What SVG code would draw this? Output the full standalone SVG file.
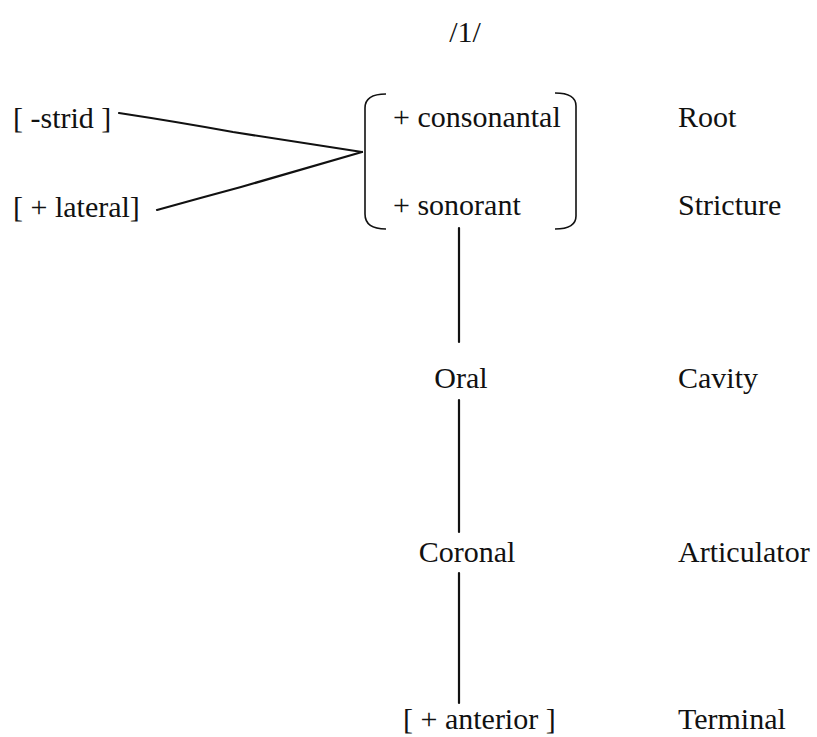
<svg xmlns="http://www.w3.org/2000/svg" width="817" height="737" viewBox="0 0 817 737">
  <style>
    text { font-family: "Liberation Serif", "Times New Roman", "DejaVu Serif", serif; font-size: 30px; fill: #111; }
    .mid { text-anchor: middle; }
    .edge { fill: none; stroke: #111; stroke-width: 2.2; stroke-linecap: round; stroke-linejoin: round; }
    .brk { fill: none; stroke: #111; stroke-width: 1.6; }
  </style>
  <rect width="817" height="737" fill="#ffffff"/>

  <text class="mid" x="465" y="42">/1/</text>

  <g id="connectors">
    <path class="edge" d="M119 113 Q178 122 233 132 L362 152"/>
    <path class="edge" d="M157 210 Q200 198 241 187 L362 152"/>
    <line class="edge" x1="459" y1="228" x2="459" y2="342"/>
    <line class="edge" x1="459" y1="400" x2="459" y2="532"/>
    <line class="edge" x1="459" y1="573" x2="459" y2="703"/>
  </g>

  <g id="strid"><text x="13" y="128">[ -strid ]</text></g>
  <g id="lateral"><text x="13" y="217">[ + lateral]</text></g>

  <g id="root-matrix">
    <path class="brk" d="M386 94 Q365 94 365 108 L365 214 Q365 229 386 229"/>
    <path class="brk" d="M555 93 Q576 93 576 106 L576 216 Q576 229 555 229"/>
    <text x="393" y="127">+ consonantal</text>
    <text x="393" y="215">+ sonorant</text>
  </g>

  <g id="oral"><text class="mid" x="461" y="388">Oral</text></g>
  <g id="coronal"><text class="mid" x="467" y="562">Coronal</text></g>
  <g id="anterior"><text x="403" y="729">[ + anterior ]</text></g>

  <g id="tier-labels">
    <text x="678" y="127">Root</text>
    <text x="678" y="215">Stricture</text>
    <text x="678" y="388">Cavity</text>
    <text x="678" y="562">Articulator</text>
    <text x="678" y="729">Terminal</text>
  </g>
</svg>
